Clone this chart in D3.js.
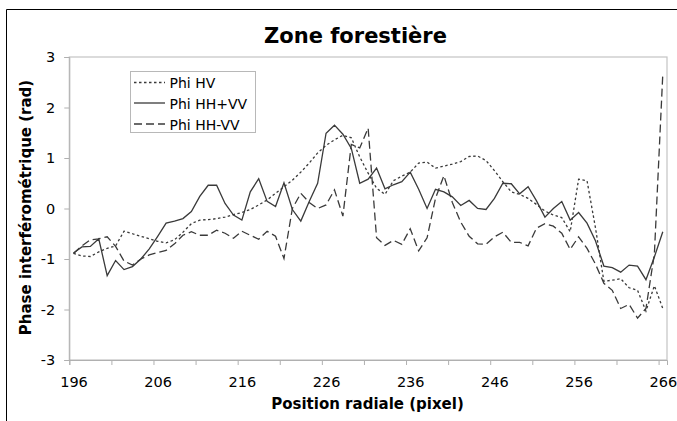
<!DOCTYPE html>
<html>
<head>
<meta charset="utf-8">
<script src="https://cdn.jsdelivr.net/npm/d3@7"></script>
<style>
  html, body { margin: 0; padding: 0; background: #fff; }
  svg { display: block; font-family: "DejaVu Sans", Verdana, sans-serif; }
</style>
</head>
<body>
<svg id="chart" width="677" height="421"></svg>
<script>
// ---- data ----
const positions = d3.range(196, 267); // 196..266
const phiHV = [-0.89,-0.94,-0.95,-0.86,-0.79,-0.74,-0.45,-0.5,-0.55,-0.6,-0.65,-0.68,-0.62,-0.47,-0.3,
  -0.23,-0.22,-0.2,-0.17,-0.12,-0.08,-0.02,0.07,0.17,0.3,0.43,0.56,0.72,0.9,1.1,
  1.25,1.36,1.45,1.4,1.02,0.7,0.4,0.28,0.55,0.64,0.72,0.9,0.92,0.8,0.84,
  0.88,0.93,1.03,1.04,0.95,0.75,0.53,0.33,0.28,0.2,0.08,-0.05,-0.13,-0.18,-0.46,
  0.58,0.55,-0.38,-1.44,-1.42,-1.39,-1.57,-1.62,-2.03,-1.53,-1.98];
const phiHHpVV = [-0.88,-0.76,-0.75,-0.6,-1.33,-1.03,-1.21,-1.15,-1.0,-0.8,-0.55,-0.29,-0.25,-0.2,-0.06,
  0.24,0.46,0.46,0.1,-0.13,-0.23,0.33,0.59,0.14,0.04,0.51,-0.02,-0.25,0.14,0.5,
  1.49,1.65,1.47,1.19,0.5,0.58,0.8,0.39,0.47,0.53,0.72,0.38,0.0,0.38,0.33,
  0.23,0.06,0.16,0.0,-0.02,0.2,0.5,0.49,0.29,0.43,0.15,-0.17,0.0,0.14,-0.23,
  -0.08,-0.29,-0.64,-1.14,-1.17,-1.26,-1.12,-1.14,-1.41,-0.96,-0.46];
const phiHHmVV = [-0.89,-0.74,-0.62,-0.6,-0.56,-0.75,-1.04,-1.12,-1.0,-0.92,-0.87,-0.83,-0.7,-0.53,-0.46,
  -0.53,-0.53,-0.43,-0.49,-0.59,-0.45,-0.53,-0.61,-0.45,-0.55,-0.99,0.0,0.3,0.12,0.0,
  0.07,0.37,-0.15,1.27,1.2,1.59,-0.58,-0.73,-0.63,-0.71,-0.4,-0.84,-0.58,0.2,0.65,
  0.12,-0.27,-0.55,-0.7,-0.71,-0.56,-0.47,-0.67,-0.67,-0.74,-0.39,-0.3,-0.35,-0.49,-0.81,
  -0.56,-0.79,-1.1,-1.48,-1.62,-1.98,-1.9,-2.17,-1.98,-0.9,2.66];
const seriesNames = ["Phi HV", "Phi HH+VV", "Phi HH-VV"];
const xLabels = [196, 206, 216, 226, 236, 246, 256, 266];
const yTicks = [-3, -2, -1, 0, 1, 2, 3];
const title = "Zone forestière";
const xTitle = "Position radiale (pixel)";
const yTitle = "Phase interférométrique (rad)";

// ---- layout ----
const svg = d3.select("#chart");
const L = 69.3, R = 667, T = 57, B = 360;
const x = d3.scaleLinear().domain([195.5, 266.5]).range([L, R]);
const y = d3.scaleLinear().domain([-3, 3]).range([B, T]);

// outer chart frame (partially visible)
svg.append("path").attr("d", `M6.5,421 V9.5 H677`).attr("fill", "none")
  .attr("stroke", "#000").attr("stroke-width", 1);

// title
svg.append("text").attr("x", 355.5).attr("y", 43).attr("text-anchor", "middle")
  .attr("font-size", 21).attr("font-weight", "bold").attr("fill", "#000").text(title);

// plot area border
svg.append("rect").attr("x", L).attr("y", T).attr("width", R - L).attr("height", B - T)
  .attr("fill", "none").attr("stroke", "#c4c4c4").attr("stroke-width", 1.2);

// y axis
const yAxis = svg.append("g").attr("transform", `translate(${L},0)`)
  .call(d3.axisLeft(y).tickValues(yTicks).tickSize(5).tickPadding(9).tickFormat(d3.format("d")));
yAxis.select(".domain").attr("stroke", "#b0b0b0");
yAxis.selectAll(".tick line").attr("stroke", "#b0b0b0");
yAxis.selectAll(".tick text").attr("font-size", 14.5).attr("fill", "#000")
  .attr("font-family", "DejaVu Sans, Verdana, sans-serif").text(d => d < 0 ? "-" + Math.abs(d) : d);

// x axis: tick marks at category boundaries every 5, labels every 10 centered on category
const xTickMarks = d3.range(195.5, 267, 5);
const xAxisMarks = svg.append("g").attr("transform", `translate(0,${B})`)
  .call(d3.axisBottom(x).tickValues(xTickMarks).tickSize(5).tickFormat(""));
xAxisMarks.select(".domain").attr("stroke", "#b0b0b0");
xAxisMarks.selectAll(".tick line").attr("stroke", "#b0b0b0");
const xAxisLabels = svg.append("g").attr("transform", `translate(0,${B})`)
  .call(d3.axisBottom(x).tickValues(xLabels).tickSize(0).tickPadding(17).tickFormat(d3.format("d")));
xAxisLabels.select(".domain").remove();
xAxisLabels.selectAll(".tick text").attr("font-size", 14.5).attr("fill", "#000")
  .attr("font-family", "DejaVu Sans, Verdana, sans-serif");

// axis titles
svg.append("text").attr("x", 367.5).attr("y", 409).attr("text-anchor", "middle")
  .attr("font-size", 15).attr("font-weight", "bold").text(xTitle);
svg.append("text").attr("transform", "translate(31,207.5) rotate(-90)").attr("text-anchor", "middle")
  .attr("font-size", 15).attr("font-weight", "bold").text(yTitle);

// lines
const styles = [
  { data: phiHV, dash: "2.5,2.5", color: "#3a3a3a", width: 1.3 },
  { data: phiHHpVV, dash: null, color: "#3a3a3a", width: 1.3 },
  { data: phiHHmVV, dash: "8,4", color: "#3a3a3a", width: 1.3 }
];
const line = d3.line().x((d, i) => x(positions[i])).y(d => y(d));
styles.forEach(s => {
  svg.append("path").datum(s.data).attr("d", line).attr("fill", "none")
    .attr("stroke", s.color).attr("stroke-width", s.width)
    .attr("stroke-dasharray", s.dash).attr("stroke-linejoin", "miter");
});

// legend
const lg = svg.append("g");
lg.append("rect").attr("x", 130.5).attr("y", 71.5).attr("width", 125).attr("height", 61)
  .attr("fill", "#fff").attr("stroke", "#b8b8b8").attr("stroke-width", 1);
const legendY = [82.5, 103, 124];
seriesNames.forEach((name, k) => {
  lg.append("line").attr("x1", 134).attr("x2", 165).attr("y1", legendY[k]).attr("y2", legendY[k])
    .attr("stroke", styles[k].color).attr("stroke-width", styles[k].width)
    .attr("stroke-dasharray", styles[k].dash);
  lg.append("text").attr("x", 169.5).attr("y", legendY[k] + 5.5).attr("font-size", 14)
    .attr("fill", "#000").text(name);
});
</script>
</body>
</html>
